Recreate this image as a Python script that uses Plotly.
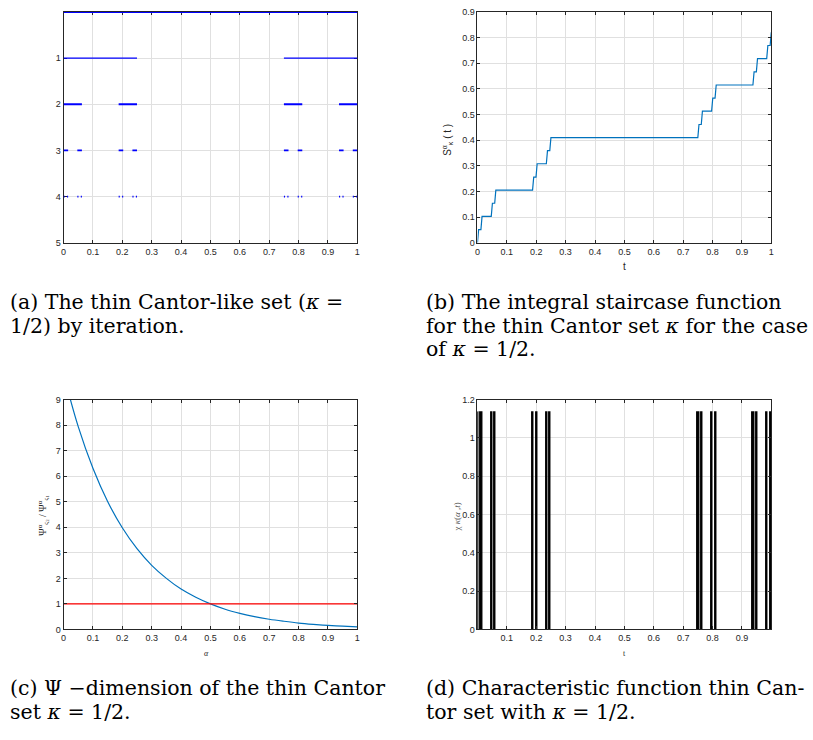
import plotly.graph_objects as go

# ---------------- data ----------------
# (a) thin Cantor-like set, intervals kept at each iteration level
level0_start = [0.0]
level0_end = [1.0]
level1_start = [0.0, 0.75]
level1_end = [0.25, 1.0]
level2_start = [0.0, 0.1875, 0.75, 0.9375]
level2_end = [0.0625, 0.25, 0.8125, 1.0]
level3_start = [0.0, 0.046875, 0.1875, 0.234375, 0.75, 0.796875, 0.9375, 0.984375]
level3_end = [0.015625, 0.0625, 0.203125, 0.25, 0.765625, 0.8125, 0.953125, 1.0]
level4_start = [0.0, 0.0117, 0.0469, 0.0586, 0.1875, 0.1992, 0.2344, 0.2461,
                0.75, 0.7617, 0.7969, 0.8086, 0.9375, 0.9492, 0.9844, 0.9961]
level4_end = [0.0039, 0.0156, 0.0508, 0.0625, 0.1914, 0.2031, 0.2383, 0.25,
              0.7539, 0.7656, 0.8008, 0.8125, 0.9414, 0.9531, 0.9883, 1.0]

# (b) integral staircase function
stair_t = [0.0, 0.0039, 0.0117, 0.0156, 0.0469, 0.0508, 0.0586, 0.0625,
           0.1875, 0.1914, 0.1992, 0.2031, 0.2344, 0.2383, 0.2461, 0.25,
           0.75, 0.7539, 0.7617, 0.7656, 0.7969, 0.8008, 0.8086, 0.8125,
           0.9375, 0.9414, 0.9492, 0.9531, 0.9844, 0.9883, 0.9961, 1.0]
stair_s = [0.0, 0.051, 0.051, 0.103, 0.103, 0.154, 0.154, 0.205,
           0.205, 0.256, 0.256, 0.308, 0.308, 0.359, 0.359, 0.41,
           0.41, 0.461, 0.461, 0.513, 0.513, 0.564, 0.564, 0.615,
           0.615, 0.666, 0.666, 0.718, 0.718, 0.769, 0.769, 0.82]

# (c) Psi-dimension ratio
alpha = [0.0, 0.05, 0.1, 0.15, 0.2, 0.25, 0.3, 0.35, 0.4, 0.45, 0.5,
         0.55, 0.6, 0.65, 0.7, 0.75, 0.8, 0.85, 0.9, 0.95, 1.0]
psi_ratio = [10.0, 7.94, 6.31, 5.01, 3.98, 3.16, 2.51, 2.0, 1.58, 1.26, 1.0,
             0.79, 0.63, 0.5, 0.4, 0.32, 0.25, 0.2, 0.16, 0.13, 0.1]
ref_alpha = [0.0, 1.0]
ref_value = [1.0, 1.0]

# (d) characteristic function
chi_t = [0.00195, 0.01365, 0.04885, 0.06055, 0.18945, 0.20115, 0.23635, 0.24805,
         0.75195, 0.76365, 0.79885, 0.81055, 0.93945, 0.95115, 0.98635, 0.99805]
chi_v = [1.13, 1.13, 1.13, 1.13, 1.13, 1.13, 1.13, 1.13,
         1.13, 1.13, 1.13, 1.13, 1.13, 1.13, 1.13, 1.13]
chi_width = 0.0039

# tick labels
ticks01 = [0, 0.1, 0.2, 0.3, 0.4, 0.5, 0.6, 0.7, 0.8, 0.9, 1]
ticks01_lbl = ["0", "0.1", "0.2", "0.3", "0.4", "0.5", "0.6", "0.7", "0.8", "0.9", "1"]
ticks_a_y = [1, 2, 3, 4, 5]
ticks_b_y = [0, 0.1, 0.2, 0.3, 0.4, 0.5, 0.6, 0.7, 0.8, 0.9]
ticks_c_y = [0, 1, 2, 3, 4, 5, 6, 7, 8, 9]
ticks_d_x = [0.1, 0.2, 0.3, 0.4, 0.5, 0.6, 0.7, 0.8, 0.9]
ticks_d_y = [0, 0.2, 0.4, 0.6, 0.8, 1, 1.2]

# ---------------- figure ----------------
W, H = 813, 740
fig = go.Figure()


def segs(starts, ends, yv):
    xs, ys = [], []
    for s, e in zip(starts, ends):
        xs += [s, e, None]
        ys += [yv, yv, None]
    return xs, ys


levels = [(level0_start, level0_end, 0, 2.2), (level1_start, level1_end, 1, 1.3),
          (level2_start, level2_end, 2, 1.8), (level3_start, level3_end, 3, 1.8),
          (level4_start, level4_end, 4, 1.8)]
for st, en, lv, lw in levels:
    xs, ys = segs(st, en, lv)
    fig.add_trace(go.Scatter(x=xs, y=ys, mode="lines", line=dict(color="#0000ff", width=lw),
                             xaxis="x", yaxis="y", showlegend=False, hoverinfo="skip",
                             cliponaxis=False))

fig.add_trace(go.Scatter(x=stair_t, y=stair_s, mode="lines",
                         line=dict(color="#0072bd", width=1.2),
                         xaxis="x2", yaxis="y2", showlegend=False))

fig.add_trace(go.Scatter(x=alpha, y=psi_ratio, mode="lines", line_shape="spline",
                         line=dict(color="#0072bd", width=1.2),
                         xaxis="x3", yaxis="y3", showlegend=False))
fig.add_trace(go.Scatter(x=ref_alpha, y=ref_value, mode="lines",
                         line=dict(color="#ff0000", width=1.2),
                         xaxis="x3", yaxis="y3", showlegend=False))

fig.add_trace(go.Bar(x=chi_t, y=chi_v, width=chi_width,
                     marker=dict(color="black", line=dict(color="black", width=1.4)),
                     xaxis="x4", yaxis="y4", showlegend=False))


def px_dom_x(a, b):
    return [a / W, b / W]


def px_dom_y(top, bot):
    return [1 - bot / H, 1 - top / H]


axis_common = dict(showline=True, linecolor="#262626", linewidth=1, mirror="ticks",
                   ticks="inside", ticklen=3, tickcolor="#262626", tickwidth=1,
                   showgrid=True, gridcolor="#e0e0e0", gridwidth=1, zeroline=False,
                   tickfont=dict(family="Liberation Sans, Arial", size=9, color="#262626"))

fig.update_layout(
    width=W, height=H, margin=dict(l=0, r=0, t=0, b=0),
    paper_bgcolor="white", plot_bgcolor="white", bargap=0,
    xaxis=dict(domain=px_dom_x(61, 357), anchor="y", range=[0, 1], layer="below traces",
               tickvals=ticks01, ticktext=ticks01_lbl, **axis_common),
    yaxis=dict(domain=px_dom_y(7, 241), anchor="x", range=[5, 0], layer="below traces",
               tickvals=ticks_a_y, **axis_common),
    xaxis2=dict(domain=px_dom_x(478, 774), anchor="y2", range=[0, 1],
                tickvals=ticks01, ticktext=ticks01_lbl, **axis_common),
    yaxis2=dict(domain=px_dom_y(7, 241), anchor="x2", range=[0, 0.9],
                tickvals=ticks_b_y, **axis_common),
    xaxis3=dict(domain=px_dom_x(61, 357), anchor="y3", range=[0, 1],
                tickvals=ticks01, ticktext=ticks01_lbl, **axis_common),
    yaxis3=dict(domain=px_dom_y(400, 633), anchor="x3", range=[0, 9],
                tickvals=ticks_c_y, **axis_common),
    xaxis4=dict(domain=px_dom_x(478, 774), anchor="y4", range=[0, 1],
                tickvals=ticks_d_x, **axis_common),
    yaxis4=dict(domain=px_dom_y(400, 633), anchor="x4", range=[0, 1.2],
                tickvals=ticks_d_y, **axis_common),
)


def ann(x, y, text, size, family, color="black", angle=0, xanchor="center", yanchor="middle"):
    fig.add_annotation(x=x / W, y=1 - y / H, xref="paper", yref="paper", text=text,
                       showarrow=False, textangle=angle, xanchor=xanchor, yanchor=yanchor,
                       borderpad=0, font=dict(size=size, family=family, color=color))


sans = "Liberation Sans, Arial"
serif = "Liberation Serif, Times New Roman"
capfont = "DejaVu Serif"

# axis labels
ann(626, 265, "t", 10, sans, "#262626")
ann(447, 137, "S<sup>α</sup><sub>κ</sub> ( t )", 10, sans, "#262626", angle=-90)
ann(205, 657, "<i>α</i>", 8, serif, "#262626")
ann(40, 517, "Ψ<sup>α</sup><sub>ς<sub>2</sub></sub> / Ψ<sup>α</sup><sub>ς<sub>1</sub></sub>", 10, serif,
    "#262626", angle=-90)
ann(626, 657, "t", 8, serif, "#262626")
ann(457, 519, "χ <i>κ</i>(<i>α</i> ,<i>t</i>)", 9, serif, "#555555", angle=-90)

# captions
cap = 20.5
ann(6, 301, "(a) The thin Cantor-like set (<i>κ</i> =", cap, capfont, xanchor="left")
ann(6, 325, "1/2) by iteration.", cap, capfont, xanchor="left")
ann(425, 301, "(b) The integral staircase function", cap, capfont, xanchor="left")
ann(425, 325, "for the thin Cantor set <i>κ</i> for the case", cap, capfont, xanchor="left")
ann(425, 349, "of <i>κ</i> = 1/2.", cap, capfont, xanchor="left")
ann(6, 692, "(c) Ψ −dimension of the thin Cantor", cap, capfont, xanchor="left")
ann(6, 717, "set <i>κ</i> = 1/2.", cap, capfont, xanchor="left")
ann(425, 692, "(d) Characteristic function thin Can-", cap, capfont, xanchor="left")
ann(425, 717, "tor set with <i>κ</i> = 1/2.", cap, capfont, xanchor="left")

fig.write_html("out.html", config={"displayModeBar": False},
               post_script="document.body.style.margin='0px';")
